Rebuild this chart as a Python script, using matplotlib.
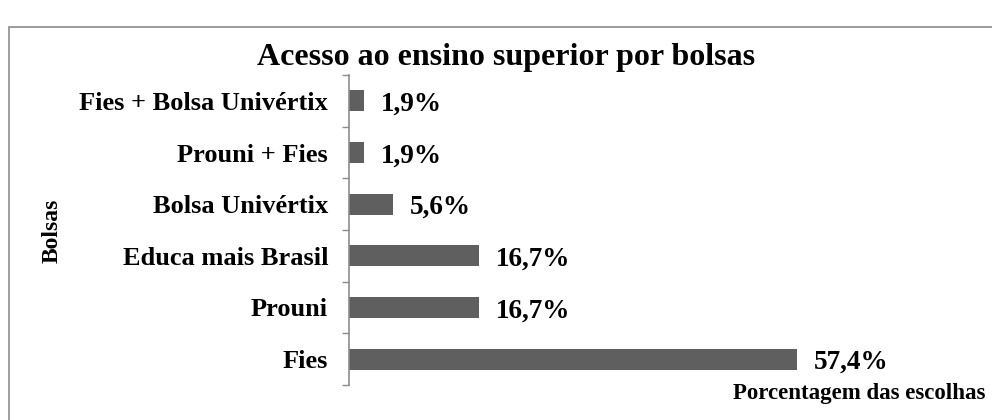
import matplotlib
matplotlib.use("Agg")
import matplotlib.pyplot as plt
from matplotlib.patches import Rectangle

categories = ["Fies", "Prouni", "Educa mais Brasil", "Bolsa Univértix", "Prouni + Fies", "Fies + Bolsa Univértix"]
values = [57.4, 16.7, 16.7, 5.6, 1.9, 1.9]
value_labels = ["57,4%", "16,7%", "16,7%", "5,6%", "1,9%", "1,9%"]

plt.rcParams['font.family'] = ['Liberation Serif', 'DejaVu Serif']
W, H = 992, 420
fig = plt.figure(figsize=(W / 100, H / 100), dpi=100)

# outer border (cropped at right/bottom)
fig.patches.append(Rectangle((8.5 / W, -0.1), 1.2, (H - 27.5) / H + 0.1, transform=fig.transFigure,
                             fill=False, edgecolor='#8c8c8c', linewidth=1.2))

ax = fig.add_axes([349 / W, 35 / H, 546 / W, 310 / H])
ypos = list(range(len(categories)))
ax.barh(ypos, values, height=0.41, color='#5f5f5f')
ax.set_xlim(0, 70)
ax.set_ylim(-0.5, len(categories) - 0.5)

for y, v, lab in zip(ypos, values, value_labels):
    ax.annotate(lab, (v, y), xytext=(12, -2.5), textcoords='offset points', ha='left', va='center',
                fontsize=19.5, fontweight='bold')

ax.set_yticks(ypos)
ax.set_yticklabels(categories, fontsize=19, fontweight='bold')
ax.tick_params(axis='y', which='major', length=0, pad=15)
ax.set_yticks([i - 0.5 for i in range(len(categories) + 1)], minor=True)
ax.tick_params(axis='y', which='minor', length=5, color='#8c8c8c', width=1)
ax.set_xticks([])
for s in ['top', 'right', 'bottom']:
    ax.spines[s].set_visible(False)
ax.spines['left'].set_color('#8c8c8c')
ax.spines['left'].set_linewidth(1.2)

fig.text(506 / W, 1 - 57 / H, "Acesso ao ensino superior por bolsas", ha='center', va='center',
         fontsize=23, fontweight='bold')
fig.text(52 / W, 1 - 231 / H, "Bolsas", rotation=90, ha='center', va='center',
         fontsize=17, fontweight='bold')
fig.text(985 / W, 1 - 394 / H, "Porcentagem das escolhas", ha='right', va='center',
         fontsize=16.5, fontweight='bold')

fig.savefig("out.png", dpi=100)
